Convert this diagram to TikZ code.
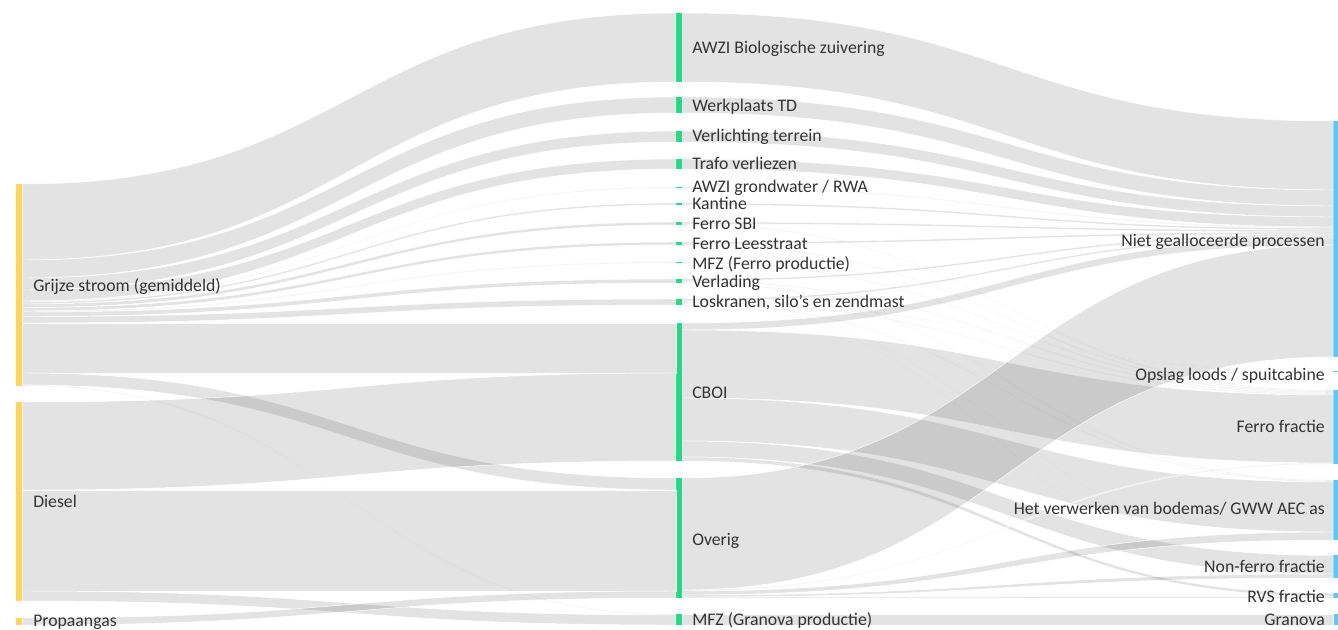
\documentclass[tikz,border=0pt]{standalone}
\usepackage{fontspec}
\setmainfont{Carlito}
\usepackage{tikz}
\usetikzlibrary{calc,positioning}
\definecolor{geel}{RGB}{255,212,88}
\definecolor{groen}{RGB}{30,220,128}
\definecolor{blauw}{RGB}{92,200,245}
\definecolor{tekst}{RGB}{51,51,51}
\tikzset{
        nodebar/.style = {inner sep=0pt, minimum width=4.6pt},
        flowband/.style = {fill=black, fill opacity=0.11, draw=white, line width=0.35pt},
        lbl/.style = {inner sep=0pt, text=tekst, text height=1.04em, text depth=0.2em,
            font=\fontsize{13.3}{15}\selectfont},
    }
% bar: name, x, top, height, colour
\newcommand{\nbar}[5]{\node[nodebar, fill=#5, minimum height=#4*0.75pt, anchor=north west] (#1) at (#2,#3) {};}
% band: source, top, bottom, target, top, bottom (offsets from bar tops)
\newcommand{\stroomband}[6]{%
    \path[flowband] let \p1=($(#1.north east)+(0,#2)$), \p2=($(#1.north east)+(0,#3)$),
        \p3=($(#4.north west)+(0,#5)$), \p4=($(#4.north west)+(0,#6)$),
        \p5=($(\p1)!0.5!(\p3)$) in
        (\p1) .. controls (\x5,\y1) and (\x5,\y3) .. (\p3) -- (\p4)
        .. controls (\x5,\y4) and (\x5,\y2) .. (\p2) -- cycle;}

\begin{document}
\begin{tikzpicture}[x=0.75pt,y=0.75pt,yscale=-1,xscale=1]
    \useasboundingbox (0,0) rectangle (1338,629);

    %Bars left
    \nbar{grijze}{16}{184}{202}{geel}
    \nbar{diesel}{16}{402}{199}{geel}
    \nbar{propaan}{16}{618}{7}{geel}
    %Bars middle
    \nbar{awzi}{676}{13}{69}{groen}
    \nbar{werk}{676}{97}{16}{groen}
    \nbar{verl}{676}{131}{11}{groen}
    \nbar{trafo}{676}{159}{10}{groen}
    \nbar{gw}{676}{187}{1}{groen}
    \nbar{kant}{676}{203}{2}{groen}
    \nbar{sbi}{676}{222}{3}{groen}
    \nbar{lees}{676}{242}{3}{groen}
    \nbar{mfzf}{676}{262}{1}{groen}
    \nbar{verlad}{676}{279}{4}{groen}
    \nbar{losk}{676}{299}{6}{groen}
    \nbar{cboi}{676}{323}{138}{groen}
    \nbar{overig}{676}{478}{120}{groen}
    \nbar{mfzg}{676}{614}{11}{groen}
    %Bars right
    \nbar{ng}{1333}{121}{236}{blauw}
    \nbar{ol}{1333}{371}{0.5}{blauw}
    \nbar{ff}{1333}{390}{74}{blauw}
    \nbar{hv}{1333}{480}{60}{blauw}
    \nbar{nf}{1333}{555}{23}{blauw}
    \nbar{rvs}{1333}{593}{5}{blauw}
    \nbar{gran}{1333}{614}{11}{blauw}

    %Flows left to middle
    \stroomband{grijze}{0}{76}{awzi}{0}{69}
    \stroomband{grijze}{76}{94}{werk}{0}{16}
    \stroomband{grijze}{94}{106}{verl}{0}{11}
    \stroomband{grijze}{106}{117}{trafo}{0}{10}
    \stroomband{grijze}{117}{118}{gw}{0}{1}
    \stroomband{grijze}{118}{120}{kant}{0}{2}
    \stroomband{grijze}{120}{123.5}{sbi}{0}{3}
    \stroomband{grijze}{123.5}{127}{lees}{0}{3}
    \stroomband{grijze}{127}{128}{mfzf}{0}{1}
    \stroomband{grijze}{128}{132.5}{verlad}{0}{4}
    \stroomband{grijze}{132.5}{139}{losk}{0}{6}
    \stroomband{grijze}{139}{189}{cboi}{0}{50}
    \stroomband{grijze}{189}{201}{overig}{0}{12}
    \stroomband{grijze}{201}{202}{mfzg}{0}{1}
    \stroomband{diesel}{0}{88}{cboi}{50}{138}
    \stroomband{diesel}{88}{189}{overig}{12}{113}
    \stroomband{diesel}{189}{199}{mfzg}{1}{11}
    \stroomband{propaan}{0}{7}{overig}{113}{120}

    %Flows middle to right
    \stroomband{awzi}{0}{69}{ng}{0}{69}
    \stroomband{werk}{0}{16}{ng}{69}{85}
    \stroomband{verl}{0}{11}{ng}{85}{96}
    \stroomband{trafo}{0}{10}{ng}{96}{106}
    \stroomband{gw}{0}{1}{ng}{106}{107}
    \stroomband{kant}{0}{2}{ng}{107}{109}
    \stroomband{sbi}{0}{2}{ng}{109}{111}
    \stroomband{sbi}{2}{3}{ff}{0}{1}
    \stroomband{lees}{0}{2}{ng}{111}{113}
    \stroomband{lees}{2}{3}{ff}{1}{2}
    \stroomband{mfzf}{0}{1}{ff}{2}{3}
    \stroomband{verlad}{0}{2}{ng}{113}{115}
    \stroomband{verlad}{2}{3}{ff}{3}{4}
    \stroomband{verlad}{3}{4}{hv}{0}{1}
    \stroomband{losk}{0}{2}{ng}{115}{117}
    \stroomband{losk}{2}{3}{ol}{0}{0.5}
    \stroomband{losk}{3}{4}{ff}{4}{5}
    \stroomband{losk}{4}{5}{hv}{1}{2}
    \stroomband{losk}{5}{5.5}{nf}{0}{0.5}
    \stroomband{losk}{5.5}{6}{rvs}{0}{0.5}
    \stroomband{cboi}{0}{7}{ng}{117}{124}
    \stroomband{cboi}{7}{75}{ff}{5}{73}
    \stroomband{cboi}{75}{118}{hv}{2}{52}
    \stroomband{cboi}{118}{134}{nf}{0.5}{19}
    \stroomband{cboi}{134}{138}{rvs}{0.5}{3.5}
    \stroomband{overig}{0}{112}{ng}{124}{236}
    \stroomband{overig}{112}{113}{ff}{73}{74}
    \stroomband{overig}{113}{117}{hv}{52}{60}
    \stroomband{overig}{117}{119}{nf}{19}{23}
    \stroomband{overig}{119}{120}{rvs}{3.5}{5}
    \stroomband{mfzg}{0}{11}{gran}{0}{11}

    % Text Node
    \node[lbl, anchor=west] (tgrijze) at (33,286) {Grijze stroom (gemiddeld)};
    \node[lbl, anchor=west] (tdiesel) at (33,502) {Diesel};
    \node[lbl, anchor=west] (tpropaan) at (33,621) {Propaangas};
    % Text Node
    \node[lbl, anchor=west] (tawzi) at (692,48) {AWZI Biologische zuivering};
    \node[lbl, anchor=west] (twerk) at (692,106) {Werkplaats TD};
    \node[lbl, anchor=west] (tverl) at (692,136) {Verlichting terrein};
    \node[lbl, anchor=west] (ttrafo) at (692,164) {Trafo verliezen};
    \node[lbl, anchor=west] (tgw) at (692,187) {AWZI grondwater / RWA};
    \node[lbl, anchor=west] (tkant) at (692,204) {Kantine};
    \node[lbl, anchor=west] (tsbi) at (692,224) {Ferro SBI};
    \node[lbl, anchor=west] (tlees) at (692,244) {Ferro Leesstraat};
    \node[lbl, anchor=west] (tmfzf) at (692,264) {MFZ (Ferro productie)};
    \node[lbl, anchor=west] (tverlad) at (692,282) {Verlading};
    \node[lbl, anchor=west] (tlosk) at (692,302) {Loskranen, silo’s en zendmast};
    \node[lbl, anchor=west] (tcboi) at (692,393) {CBOI};
    \node[lbl, anchor=west] (toverig) at (692,540) {Overig};
    \node[lbl, anchor=west] (tmfzg) at (692,620) {MFZ (Granova productie)};
    % Text Node
    \node[lbl, anchor=east] (tng) at (1325,241) {Niet gealloceerde processen};
    \node[lbl, anchor=east] (tol) at (1325,375) {Opslag loods / spuitcabine};
    \node[lbl, anchor=east] (tff) at (1325,427) {Ferro fractie};
    \node[lbl, anchor=east] (thv) at (1325,509) {Het verwerken van bodemas/ GWW AEC as};
    \node[lbl, anchor=east] (tnf) at (1325,567) {Non-ferro fractie};
    \node[lbl, anchor=east] (trvs) at (1325,597) {RVS fractie};
    \node[lbl, anchor=east] (tgran) at (1325,620) {Granova};

\end{tikzpicture}
\end{document}
